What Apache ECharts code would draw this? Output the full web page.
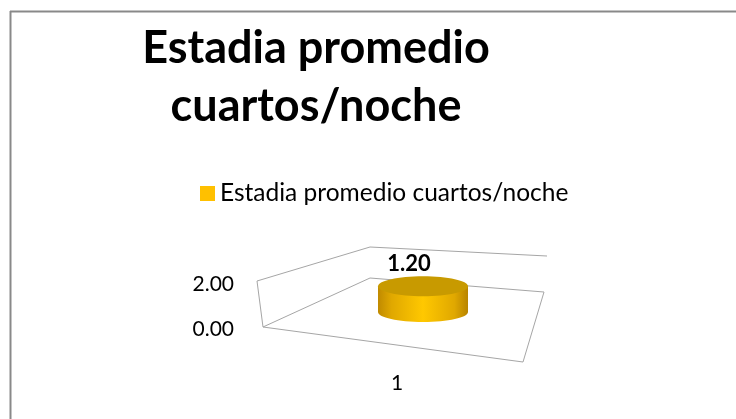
<!DOCTYPE html>
<html><head><meta charset="utf-8">
<script src="https://cdn.jsdelivr.net/npm/echarts@6/dist/echarts.min.js"></script>
<style>html,body{margin:0;padding:0;background:#fff}#c{width:736px;height:419px}</style>
</head><body><div id="c"></div>
<script>
const categories = ['1'];
const seriesName = 'Estadia promedio cuartos/noche';
const values = [1.20];
const axisMin = 0, axisMax = 2, axisInterval = 2;
const titleText = 'Estadia promedio\ncuartos/noche';

const FONT = 'Lato';
const chart = echarts.init(document.getElementById('c'), null, {renderer: 'canvas'});
const frameColor = '#A6A6A6';

chart.setOption({
  animation: false,
  backgroundColor: '#fff',
  title: {
    text: titleText, left: 311, top: 14, textAlign: 'center',
    textStyle: {fontFamily: FONT, fontWeight: 'bold', fontSize: 45, lineHeight: 58, color: '#000'}
  },
  legend: {
    data: [seriesName], left: 195, top: 176, icon: 'rect', itemWidth: 15, itemHeight: 15,
    textStyle: {fontFamily: FONT, fontSize: 24.5, color: '#000'}
  },
  grid: [
    {left: 263, width: 268, top: 284, height: 45},
    {left: 378, width: 90, top: 269, height: 43}
  ],
  xAxis: [
    {type: 'category', gridIndex: 0, data: categories, axisLine: {show: false}, axisTick: {show: false},
     axisLabel: {margin: 44, fontFamily: FONT, fontSize: 21, color: '#000'}},
    {type: 'category', gridIndex: 1, data: categories, show: false}
  ],
  yAxis: [
    {type: 'value', gridIndex: 0, min: axisMin, max: axisMax, interval: axisInterval,
     axisLine: {show: false}, axisTick: {show: false}, splitLine: {show: false},
     axisLabel: {margin: 29, fontFamily: FONT, fontSize: 21, color: '#000', formatter: v => v.toFixed(2)}},
    {type: 'value', gridIndex: 1, min: axisMin, max: axisMax, show: false}
  ],
  graphic: [
    {type: 'line', shape: {x1: 10, y1: 11.5, x2: 736, y2: 11.5}, style: {stroke: '#898989', lineWidth: 2}},
    {type: 'line', shape: {x1: 10.5, y1: 11, x2: 10.5, y2: 419}, style: {stroke: '#898989', lineWidth: 2}},
    {type: 'polyline', shape: {points: [[263,327],[257,281],[370,247],[547,256]]}, style: {stroke: frameColor, lineWidth: 1, fill: null}, z: 1},
    {type: 'polyline', shape: {points: [[263,327],[370,278],[544,292],[523,362],[263,327]]}, style: {stroke: frameColor, lineWidth: 1, fill: null}, z: 1}
  ],
  series: [{
    type: 'custom', name: seriesName, xAxisIndex: 1, yAxisIndex: 1,
    itemStyle: {color: '#FFC000'},
    data: values.map((v, i) => [i, v]),
    renderItem: function (params, api) {
      const base = api.coord([api.value(0), 0]);
      const top = api.coord([api.value(0), api.value(1)]);
      const w = api.size([1, 0])[0];
      const rx = w / 2, ry = 10;
      const cx = base[0];
      const body = new echarts.graphic.LinearGradient(0, 0, 1, 0, [
        {offset: 0, color: '#C08A00'}, {offset: 0.15, color: '#E0A800'},
        {offset: 0.5, color: '#FFC800'}, {offset: 0.85, color: '#E0A800'}, {offset: 1, color: '#B88400'}
      ]);
      return {
        type: 'group',
        children: [
          {type: 'ellipse', shape: {cx: cx, cy: base[1], rx: rx, ry: ry}, style: {fill: body}},
          {type: 'rect', shape: {x: cx - rx, y: top[1], width: w, height: base[1] - top[1]}, style: {fill: body}},
          {type: 'ellipse', shape: {cx: cx, cy: top[1], rx: rx, ry: ry}, style: {fill: '#C89A00'}},
          {type: 'text', x: cx - 14, y: top[1] - 22, style: {text: api.value(1).toFixed(2), fontFamily: FONT, fontWeight: 'bold', fontSize: 22, fill: '#000', align: 'center', verticalAlign: 'middle'}}
        ]
      };
    }
  }]
});
</script></body></html>
